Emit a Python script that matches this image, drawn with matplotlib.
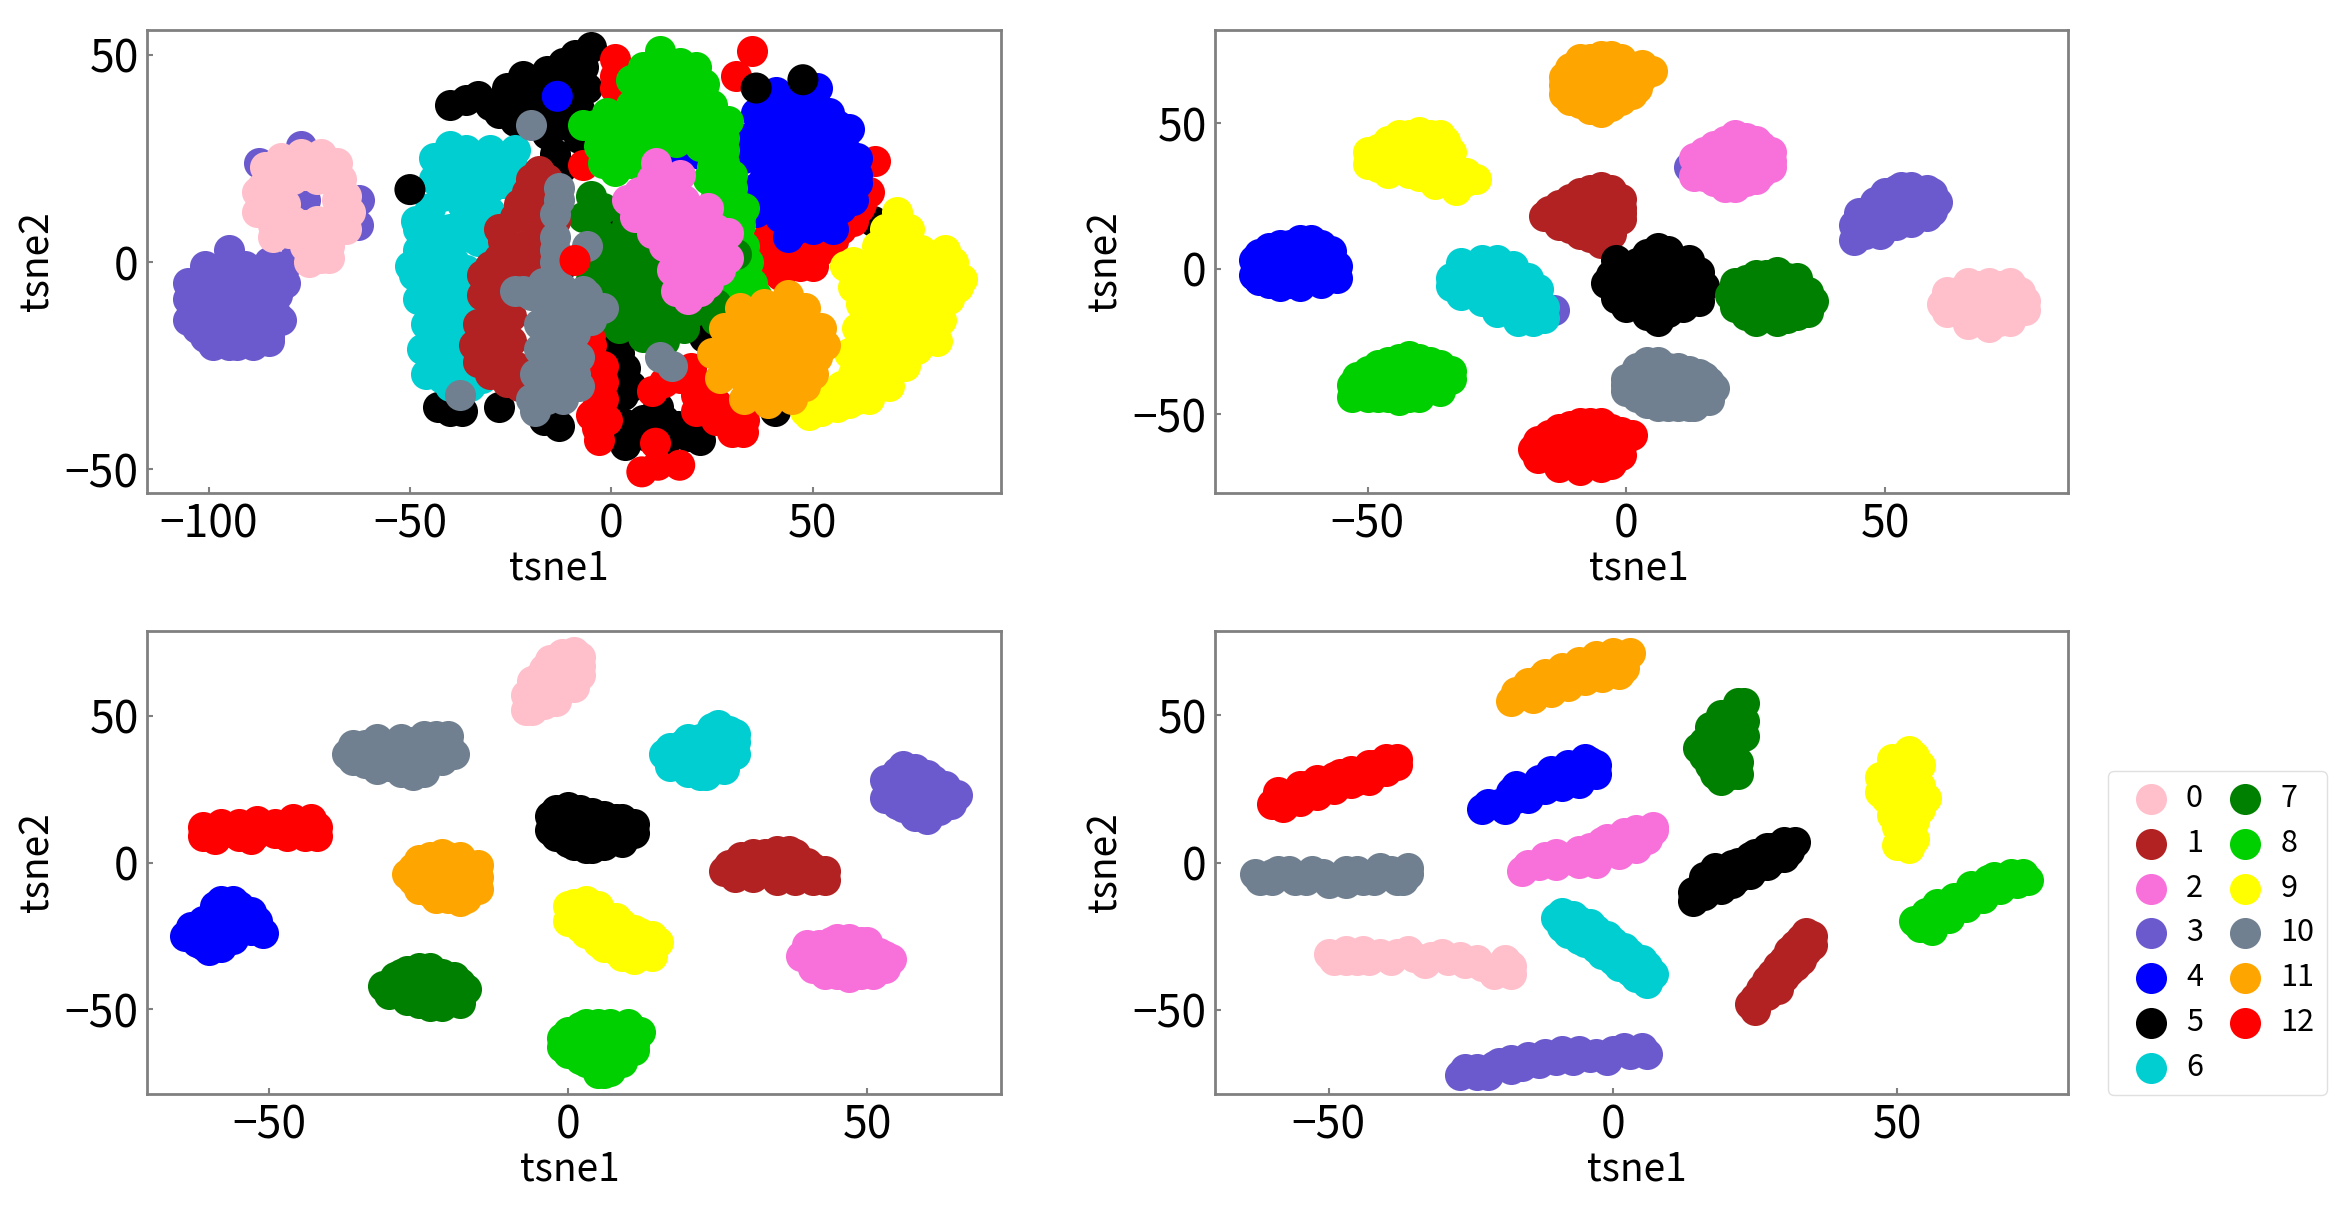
import numpy as np
import matplotlib
matplotlib.use('Agg')
import matplotlib.pyplot as plt

plt.rcParams['font.family'] = ['Noto Sans CJK SC', 'DejaVu Sans']

labels = ['0', '1', '2', '3', '4', '5', '6', '7', '8', '9', '10', '11', '12']
colors = ['#FFC0CB', '#B22222', '#F870DA', '#6A5ACD', '#0000FF', '#000000', '#00CED1',
          '#008000', '#00D000', '#FFFF00', '#708090', '#FFA500', '#FF0000']

# panel 1, heavily overlapped clusters
p1_0 = [(-84,15),(-82,20),(-76,21),(-70,20),(-68,15),(-70,10),(-76,9),(-82,10),(-86,23),(-82,25),(-77,26),(-72,26),(-68,24),(-67,20),(-66,16),(-65,12),(-68,8),(-70,4),(-72,1),(-75,0),(-87,18),(-86,13),(-84,9),(-80,7),(-76,4),(-73,6),
        (-79,20),(-73,20),(-73,10),(-79,10),(-81,14),(-88,17),(-88,12),(-85,20),(-84,6),(-70,1),(-66,8)]
p1_1 = [(-18,22),(-21,17),(-16,16),(-24,11),(-19,10),(-14,10),(-27,5),(-22,4),(-17,3),(-30,-1),(-25,-1),(-20,-1),(-30,-7),(-25,-7),(-29,-13),(-25,-13),(-29,-19),(-25,-19),(-28,-25),(-24,-25),(-26,-29),(-23,-30),
        (-22,13),(-18,8),(-25,3),(-28,1),(-23,-4),(-27,-4),(-27,-10),(-27,-16),(-27,-22),(-25,-27),(-16,20),(-19,14),(-15,4),
        (-28,8),(-23,14),(-20,20),(-32,-8),(-32,-3),(-34,-20),(-33,-15),(-33,-24),(-30,-27)]
p1_2 = [(11,24),(17,21),(7,17),(12,17),(18,15),(24,13),(4,15),(6,11),(13,10),(20,9),(26,8),(29,7),(13,4),(19,3),(26,3),(29,1),(15,-2),(21,-3),(27,-2),(16,-7),(22,-7),(19,-9),
        (9,14),(15,13),(21,12),(23,6),(16,7),(10,7),(16,1),(23,0),(18,-5),(24,-5),(27,5),(10,20),(14,19)]
p1_3 = [(-105,-9),(-105,-14),(-101,-5),(-101,-12),(-101,-18),(-97,-2),(-97,-9),(-97,-16),(-95,3),(-93,-4),(-93,-12),(-93,-20),(-89,-3),(-89,-10),(-89,-18),(-85,-4),(-85,-11),(-85,-18),(-83,-8),(-83,-13),(-81,-1),(-78,1),(-77,28),(-87.5,24),(-62.6,15),(-63,9),(-76,15),
        (-99,-7),(-99,-14),(-95,-7),(-95,-14),(-91,-8),(-91,-15),(-87,-7),(-87,-14),(-103,-11),(-103,-16),(-99,-20),(-95,-20),(-89,-20),(-85,-19),(-105,-5),(-101,-1),(-91,-1),(-85,0),(-81,-5),(-78,3),(-82,-14)]
p1_4 = [(41,41),(46,40),(51,42),(36,36),(42,35),(48,35),(54,36),(59,32),(34,30),(40,29),(46,29),(52,29),(58,27),(61,25),(33,25),(39,23),(45,23),(51,23),(57,22),(61,19),(36,18),(42,17),(48,17),(54,16),(60,15),(36,12),(42,11),(48,11),(54,11),(44,6),(55,8),(17,25),(22,26),
        (38,38),(44,38),(50,38),(56,33),(37,32),(43,32),(49,32),(55,31),(36,26),(42,26),(48,26),(54,26),(60,23),(38,20),(44,20),(50,20),(56,19),(39,14),(45,14),(51,14),(57,13),(46,8),(50,8),(34,27),(61,21)]
p1_5 = [(-5,52),(-6,42),(-12,48),(-22,45),(-17,44),(-33,40),(-40,38),(-28,36),(-22,38),(-16,36),(-11,38),(-14,26),(-16,31),(-12.5,22.6),(0,11),(-43,-35),(-37,-36),(-28,-35),(-13,-39.5),(-16.6,-38),(3.5,-44),(11.6,-35),(3.5,-39),(22,-43),(16.5,-39.5),(8,-38),(3.5,-25.6),(2,-22),(11,-8),(-12,-0.5),(23,-18),(40.6,-36),(65,10),
        (-9,50),(-16,46),(-26,42),(-30,38),(-36,39),(-24,34),(-19,38),(-13,33),(-8,37),(-7,47),(-25,40),(-17,41),(-12,42),(-8,30),(6,-41),(9,-42),(13,-38),(19,-42),(13,-44),(5,-30),(3,-32),(-40,-36),(-2,-17),(3,-28)]
p1_6 = [(-44,20),(-44,25),(-40,28),(-36,27),(-30,27),(-25,24),(-27,19),(-33,20),(-39,19),(-37,14),(-45,13),(-47,9),(-40,8),(-35,6),(-41,3),(-47,4),(-36,-2),(-49,-3),(-44,-4),(-38,-3),(-48,-9),(-43,-10),(-37,-9),(-46,-15),(-41,-16),(-36,-15),(-47,-21),(-42,-22),(-36,-21),(-46,-27),(-42,-28),(-37,-27),(-35,-30),
        (-42,22),(-37,23),(-32,24),(-28,23),(-30,18),(-42,16),(-33,15),(-43,8),(-37,9),(-44,0),(-39,0),(-42,-7),(-45,-12),(-39,-12),(-44,-18),(-39,-18),(-44,-24),(-39,-24),(-40,-30),(-48,8),(-48,3),
        (-24,27),(-24,22),(-50,-1),(-48.5,10),(-32,10),(-33,5),(-30,12),(-33,-4),(-33,-10),(-33,-17),(-33,-23),(-32,-28)]
p1_7 = [(-5,16),(-7,11),(-4,11),(-3,7),(4,9),(10,10),(9,5),(-1,5),(-1,1),(5,0),(10,-1),(-5,-4),(0,-5),(5,-5),(10,-7),(-1,-10),(4,-12),(9,-13),(14,-12),(20,-12),(2,-16),(8,-18),(13,-19),(18,-16),(31,2),
        (-2,13),(-6,3),(2,3),(7,3),(2,-1),(-3,-1),(7,-3),(2,-9),(7,-9),(12,-9),(-2,-7),(6,-15),(11,-16),(16,-13),(22,-9),(26,-10),(26,-14),(15,-8),(17,-10)]
p1_8 = [(12,51),(8,47),(17,48),(21,47),(8,41),(14,42),(20,41),(25,38),(29,34),(2,33),(8,34),(14,34),(20,33),(26,32),(-7,33),(-3,28),(3,26),(8,27),(-2,24),(1,22),(22,28),(27,28),(28,24),(30,18),(31,14),(32,9),(33,4),(34,-4),(30,-7),
        (5,44),(11,45),(17,44),(23,43),(5,38),(11,38),(17,38),(23,36),(28,30),(-4,33),(-1,36),(4,30),(10,30),(16,29),(-1,30),(5,24),(28,27),(30,21),(33,13),(32,11),
        (24,20),(26,16),(27,12),(25,23),(34,0),(35,-5),(36,-8),(31,-3)]
p1_9 = [(71,12),(71,6),(66,4),(77,3),(83,3),(60,0),(66,-1),(72,-2),(78,-3),(84,-3),(86,-6),(60,-6),(66,-7),(72,-8),(78,-9),(84,-9),(82,-14),(65,-13),(71,-14),(77,-15),(81,-19),(64,-19),(70,-20),(76,-21),(62,-25),(68,-26),(73,-25),(57,-30),(63,-31),(69,-30),(53,-33),(59,-34),(64,-33),(49,-37),(52,-36),
        (68,2),(74,1),(80,0),(63,-3),(69,-4),(75,-5),(81,-6),(62,-10),(68,-10),(74,-11),(80,-12),(67,-16),(73,-17),(79,-17),(61,-16),(59,-22),(65,-22),(71,-23),(60,-27),(65,-28),(55,-32),(61,-33),(56,-35),(50,-35),(58,-1),(48,-36),
        (68,8),(74,8),(85,0),(87,-4)]
p1_10 = [(-13,18),(-14,11.5),(-14,6),(-14,0),(-24,-7),(-12.5,-6),(-2,-11),(-6,4),(-20,-8),(-15,-10),(-10,-12),(-18,-15),(-13,-16),(-9,-17),(-18,-21),(-13,-22),(-8,-23),(-19,-27),(-14,-28),(-9,-27),(-20,-33),(-16,-33),(-12,-33),(-19,-36),(12,-23),(15,-25),(-37.5,-32),(-20,33),
         (-17,-5),(-22,-7),(-7,-7),(-16,-13),(-11,-14),(-5,-14),(-16,-19),(-11,-19),(-10,-24),(-16,-25),(-12,-25),(-16,-30),(-12,-30),(-8,-30),(-14,3),(-14,-3),(-13,15),(-6,-8),(-6,-13)]
p1_11 = [(32,-11),(38,-10),(44,-8),(48,-11),(28,-16),(34,-16),(40,-16),(46,-16),(52,-16),(53,-20),(25,-22),(31,-22),(37,-22),(43,-22),(49,-22),(27,-28),(33,-28),(39,-28),(45,-28),(50,-27),(33,-33),(39,-34),(45,-33),
         (35,-13),(41,-13),(47,-13),(31,-19),(37,-19),(43,-19),(49,-19),(28,-25),(34,-25),(40,-25),(46,-25),(51,-23),(36,-31),(42,-31),(48,-30)]
p1_12 = [(1,49),(1,45),(1,42),(35,51),(31,45),(65.6,24.5),(61.6,13),(64,17),(42,3),(52,3),(39,6),(57,8),(47,-1),(36,-3),(-4.5,-16),(-2,-29),(-3.6,-40),(-3.6,-35),(10,-31),(19.7,-25.6),(21,-32),(24.5,-35),(32.6,-41),(26,-38),(-7,23.5),
         (36,-1),(40,0),(44,1),(48,3),(38,2),(50,-1),(42,-3),(55,5),(60,10),(47,4),(62,14),(-2,-25),(-2,-33),(-5,-37),(-1,-38),(-3,-43),(13,-29),(17,-28),(23,-30),(28,-36),(30,-41),(33,-38),(21,-36),(26,-34),(-5,-20),(-4,-14),(-5,-25)]
# later points of panel 1 that sit on top of everything else
p1_top_label = [4, 5, 5, 5, 12, 12, 12, 12, 12]
p1_top_x = [-13.4, 36, 47.6, -50, -9, 11, 7.6, 17, 11.6]
p1_top_y = [40, 42, 44, 17.5, 0.4, -43.7, -50.6, -49, -49]

# panel 2
p2_0 = [(61,-12),(64,-8),(64,-15),(68,-6),(68,-12),(68,-18),(72,-6),(72,-12),(72,-18),(75,-8),(75,-15),(77,-11),(62,-8),(62,-15),(66,-5),(70,-5),(74,-5),(66,-19),(70,-20),(74,-18),(76,-8),(77,-14)]
p2_1 = [(-16,18),(-13,22),(-13,15),(-9,26),(-9,19),(-9,12),(-5,28),(-5,21),(-5,14),(-5,9),(-1,24),(-1,17),(-15,20),(-11,24),(-7,27),(-3,27),(-1,21),(-1,19),(-14,17),(-11,14),(-7,11),(-3,12),(-11,20),(-7,18)]
p2_2 = [(13,38),(13,32),(17,42),(17,36),(17,30),(21,46),(21,40),(21,34),(21,28),(25,44),(25,38),(25,31),(28,40),(28,35),(15,40),(19,44),(23,45),(26,42),(28,37),(26,33),(23,30),(19,28),(15,32),(19,36),(23,37)]
p2_3 = [(44,10),(44,15),(47,14),(47,19),(50,15),(50,21),(50,26),(53,17),(53,23),(53,28),(56,18),(56,24),(59,20),(59,26),(12,35),(-14,-14),(46,12),(49,12),(45,19),(48,23),(52,27),(55,28),(58,27),(60,23),(58,18),(55,16),(52,15),(48,17),(54,20)]
p2_4 = [(-72,3),(-72,-2),(-69,7),(-69,1),(-69,-5),(-65,8),(-65,2),(-65,-5),(-61,10),(-61,3),(-61,-4),(-57,6),(-57,0),(-56,-3),(-71,5),(-71,-4),(-67,8),(-67,-6),(-63,10),(-63,-6),(-59,8),(-59,-5),(-57,3),(-63,4),(-67,3),(-56,1)]
p2_5 = [(-4,-5),(-1,0),(-1,-7),(2,2),(2,-5),(2,-12),(6,7),(6,0),(6,-7),(6,-14),(6,-18),(10,2),(10,-5),(10,-12),(13,-3),(13,-9),(15,-6),(-2,3),(-3,-2),(-2,-10),(0,-13),(4,5),(4,-16),(8,6),(8,-15),(11,-13),(12,3),(14,-1),(14,-11),(4,-2),(8,-3)]
p2_6 = [(-34,-6),(-31,-1),(-31,-8),(-28,0),(-28,-7),(-24,1),(-24,-6),(-24,-12),(-21,-2),(-21,-9),(-21,-15),(-18,-9),(-18,-14),(-16,-17),(-32,2),(-28,3),(-25,3),(-22,1),(-19,-3),(-17,-7),(-16,-13),(-34,-3),(-32,-9),(-28,-11),(-25,-15),(-21,-18),(-18,-18)]
p2_7 = [(20,-9),(23,-4),(23,-11),(23,-16),(27,-2),(27,-9),(27,-16),(31,-3),(31,-10),(31,-17),(34,-7),(34,-13),(36,-11),(21,-5),(21,-13),(25,-2),(25,-18),(29,-1),(29,-18),(33,-3),(33,-16),(35,-8),(35,-15),(29,-8)]
p2_8 = [(-53,-40),(-53,-44),(-50,-35),(-50,-42),(-46,-32),(-46,-38),(-46,-44),(-42,-30),(-42,-37),(-42,-44),(-38,-32),(-38,-39),(-34,-35),(-35,-37),(-52,-37),(-48,-33),(-48,-44),(-44,-31),(-44,-45),(-40,-31),(-40,-44),(-36,-33),(-36,-42),(-34,-38),(-50,-44)]
p2_9 = [(-50,40),(-50,36),(-46,44),(-46,38),(-46,33),(-42,46),(-42,39),(-42,33),(-38,46),(-38,39),(-38,33),(-35,44),(-35,36),(-34,29),(-31,30),(-29,31),(-48,41),(-44,46),(-40,47),(-36,46),(-34,40),(-33,34),(-48,35),(-44,35),(-40,32),(-37,29),(-33,27),(-31,33)]
p2_10 = [(0,-38),(0,-42),(4,-32),(4,-39),(4,-46),(8,-34),(8,-40),(8,-47),(12,-35),(12,-41),(12,-47),(15,-37),(15,-43),(17,-41),(2,-34),(6,-32),(10,-34),(14,-36),(16,-39),(16,-45),(13,-47),(10,-47),(6,-47),(2,-44),(0,-40),(6,-39),(10,-40)]
p2_11 = [(-12,66),(-12,60),(-9,72),(-9,65),(-9,57),(-5,73),(-5,66),(-5,59),(-5,54),(-1,72),(-1,65),(-1,58),(2,68),(2,62),(5,68),(-12,63),(-11,69),(-7,72),(-3,73),(0,70),(3,66),(1,60),(-3,56),(-7,55),(-11,58),(-8,62),(-3,63),(3,70)]
p2_12 = [(-18,-62),(-15,-57),(-15,-64),(-11,-54),(-11,-60),(-11,-67),(-7,-53),(-7,-60),(-7,-67),(-3,-55),(-3,-62),(-3,-67),(0,-58),(1,-57),(-17,-59),(-17,-65),(-13,-55),(-13,-68),(-9,-53),(-9,-69),(-5,-53),(-5,-68),(-1,-56),(-1,-64),(-14,-62),(-9,-61),(-5,-61)]

# panel 3
p3_0 = [(-7,57),(-7,52),(-4,66),(-4,60),(-4,54),(-1,71),(-1,65),(-1,59),(2,70),(2,64),(-6,62),(-3,69),(1,72),(2,67),(1,60),(-2,55),(-6,52),(-5,63)]
p3_1 = [(26,-3),(29,2),(29,-4),(33,3),(33,-3),(37,4),(37,-3),(40,0),(40,-5),(43,-3),(27,-1),(28,-5),(31,3),(35,4),(31,-5),(35,-6),(38,-6),(41,-6),(38,3),(41,-2),(43,-6),(33,0),(37,0)]
p3_2 = [(39,-32),(42,-28),(42,-36),(45,-26),(45,-33),(45,-38),(49,-27),(49,-33),(49,-38),(52,-31),(52,-36),(54,-33),(40,-28),(41,-32),(44,-27),(47,-26),(50,-27),(53,-32),(53,-36),(51,-38),(47,-39),(43,-38),(41,-36),(46,-30),(50,-33)]
p3_3 = [(53,22),(53,28),(56,33),(56,26),(56,19),(60,30),(60,23),(60,15),(63,26),(63,20),(65,23),(54,25),(55,31),(58,32),(61,28),(63,23),(64,20),(62,18),(58,16),(55,20),(58,25),(61,22)]
p3_4 = [(-64,-25),(-61,-20),(-61,-28),(-58,-13),(-58,-20),(-58,-29),(-55,-15),(-55,-22),(-52,-20),(-51,-24),(-63,-22),(-62,-27),(-59,-15),(-59,-24),(-56,-13),(-56,-20),(-56,-26),(-53,-17),(-53,-23),(-60,-30)]
p3_5 = [(-3,16),(-3,11),(0,19),(0,13),(0,7),(4,17),(4,11),(4,5),(8,15),(8,9),(11,13),(11,10),(-2,18),(2,18),(6,16),(9,15),(1,6),(3,5),(6,6),(9,7),(-2,9),(3,13),(7,12)]
p3_6 = [(16,37),(19,40),(19,34),(22,42),(22,36),(22,30),(25,47),(25,41),(25,35),(28,44),(28,37),(17,39),(20,42),(24,46),(27,45),(28,41),(26,32),(23,30),(20,31),(17,33),(22,39),(26,38)]
p3_7 = [(-31,-42),(-28,-38),(-28,-45),(-25,-36),(-25,-43),(-25,-48),(-21,-38),(-21,-44),(-21,-49),(-18,-41),(-18,-46),(-29,-39),(-30,-45),(-27,-37),(-23,-36),(-19,-39),(-17,-43),(-18,-48),(-23,-49),(-27,-47),(-24,-42),(-21,-41)]
p3_8 = [(-1,-60),(-1,-63),(2,-56),(2,-62),(2,-67),(5,-55),(5,-62),(5,-68),(6,-72),(8,-57),(8,-63),(8,-68),(11,-57),(11,-62),(0,-58),(0,-65),(3,-55),(7,-55),(10,-55),(12,-58),(11,-64),(9,-68),(7,-71),(5,-72),(3,-68),(2,-60),(5,-60)]
p3_9 = [(0,-15),(0,-20),(3,-13),(3,-19),(3,-24),(6,-18),(6,-24),(6,-29),(9,-21),(9,-27),(9,-32),(12,-24),(12,-31),(15,-27),(1,-14),(2,-22),(5,-15),(5,-27),(8,-19),(8,-30),(11,-23),(11,-33),(14,-25),(14,-32),(4,-21),(10,-29)]
p3_10 = [(-37,37),(-34,40),(-34,34),(-30,40),(-30,33),(-26,41),(-26,35),(-26,30),(-22,43),(-22,37),(-20,40),(-36,35),(-36,40),(-32,42),(-32,32),(-28,42),(-28,31),(-24,43),(-24,31),(-21,35),(-19,37),(-20,43),(-28,37)]
p3_11 = [(-26,-2),(-26,-6),(-23,2),(-23,-4),(-23,-10),(-20,2),(-20,-4),(-20,-12),(-17,-1),(-17,-7),(-17,-12),(-15,-5),(-25,1),(-27,-4),(-25,-9),(-22,-12),(-18,-13),(-15,-9),(-15,-1),(-18,2),(-21,3),(-21,-8),(-18,-3)]
p3_12 = [(-61,9),(-61,12),(-58,10),(-58,13),(-55,9),(-55,13),(-52,10),(-52,14),(-49,10),(-49,13),(-46,11),(-46,15),(-43,10),(-43,15),(-42,12),(-59,8),(-56,12),(-53,8),(-50,12),(-47,9),(-44,13),(-44,9),(-42,9)]

# panel 4
p4_0 = [(-50,-31),(-47,-30),(-47,-33),(-44,-30),(-41,-31),(-38,-31),(-35,-32),(-32,-32),(-29,-33),(-26,-34),(-23,-35),(-20,-36),(-18,-38),(-18,-35),(-49,-33),(-45,-33),(-43,-33),(-39,-33),(-36,-30),(-33,-34),(-30,-31),(-27,-32),(-24,-33),(-21,-38),(-19,-33)]
p4_1 = [(25,-46),(25,-50),(27,-40),(27,-45),(29,-35),(29,-41),(31,-30),(31,-37),(33,-26),(33,-33),(35,-25),(35,-28),(24,-48),(26,-43),(28,-38),(30,-33),(30,-39),(32,-28),(32,-35),(34,-24),(34,-30),(29,-43)]
p4_2 = [(-16,-3),(-13,-1),(-10,-1),(-10,3),(-7,1),(-4,2),(-4,5),(-1,4),(-1,8),(2,6),(2,10),(5,9),(7,12),(-15,-1),(-12,2),(-9,2),(-6,4),(-6,0),(-3,0),(-2,7),(1,3),(1,8),(4,5),(4,11),(6,8),(7,11)]
p4_3 = [(-27,-72),(-24,-70),(-24,-72),(-21,-69),(-18,-67),(-18,-70),(-15,-66),(-12,-65),(-9,-64),(-6,-64),(-3,-65),(0,-64),(3,-65),(6,-65),(-26,-70),(-22,-72),(-20,-68),(-16,-69),(-13,-68),(-10,-67),(-7,-67),(-4,-66),(-1,-67),(2,-63),(5,-63)]
p4_4 = [(-23,18),(-20,20),(-17,22),(-17,26),(-14,25),(-11,28),(-11,31),(-8,29),(-8,33),(-5,30),(-5,35),(-3,33),(-22,20),(-19,18),(-18,24),(-15,22),(-13,28),(-12,25),(-9,26),(-7,32),(-6,27),(-4,34),(-3,30)]
p4_5 = [(14,-10),(16,-5),(19,-9),(19,-3),(22,-5),(22,0),(25,-2),(25,3),(28,1),(28,5),(31,4),(32,7),(14,-13),(17,-8),(16,-11),(18,-2),(21,-7),(21,-1),(24,-4),(24,2),(27,-1),(27,5),(30,2),(30,7)]
p4_6 = [(-9,-17),(-9,-22),(-6,-20),(-6,-26),(-3,-23),(-3,-29),(0,-27),(0,-33),(3,-31),(3,-37),(6,-35),(6,-41),(-10,-19),(-7,-18),(-8,-24),(-4,-21),(-5,-27),(-1,-25),(-2,-31),(2,-29),(1,-35),(5,-33),(4,-39),(7,-38)]
p4_7 = [(16,36),(16,41),(18,30),(18,37),(18,44),(21,30),(21,37),(21,44),(21,51),(23,48),(23,54),(22,30),(15,39),(17,33),(19,28),(20,47),(22,54),(20,40),(19,50),(23,43),(22,34),(17,46)]
p4_8 = [(54,-22),(57,-19),(57,-14),(60,-16),(60,-12),(63,-12),(63,-8),(66,-9),(66,-6),(69,-7),(72,-5),(72,-4),(53,-20),(55,-17),(56,-23),(58,-16),(59,-19),(61,-13),(62,-15),(64,-10),(65,-12),(67,-5),(68,-9),(70,-4),(71,-7),(73,-6)]
p4_9 = [(48,27),(48,22),(50,33),(50,27),(50,20),(50,12),(50,6),(53,36),(53,30),(53,22),(53,14),(53,8),(47,24),(47,29),(49,35),(49,30),(52,38),(54,33),(54,26),(54,18),(49,16),(52,5),(51,10),(55,22),(51,25),(52,18)]
p4_10 = [(-63,-4),(-60,-6),(-57,-3),(-54,-6),(-51,-4),(-48,-5),(-45,-3),(-42,-6),(-39,-3),(-36,-4),(-37,-6),(-62,-6),(-59,-3),(-56,-6),(-53,-3),(-50,-7),(-47,-3),(-44,-6),(-41,-2),(-38,-6),(-36,-2),(-60,-4),(-47,-7)]
p4_11 = [(-18,55),(-15,57),(-15,61),(-12,59),(-12,64),(-9,61),(-9,66),(-6,63),(-6,68),(-3,65),(-3,70),(0,67),(0,71),(2,69),(-17,58),(-13,62),(-14,56),(-10,63),(-11,58),(-7,66),(-8,60),(-4,67),(-5,62),(-1,69),(-2,63),(1,64),(2,66),(3,71)]
p4_12 = [(-60,20),(-57,22),(-54,23),(-54,26),(-51,25),(-48,27),(-48,30),(-45,28),(-42,30),(-42,33),(-39,33),(-38,35),(-59,24),(-58,19),(-55,26),(-55,21),(-52,28),(-52,23),(-49,29),(-49,25),(-46,31),(-46,27),(-43,33),(-43,28),(-40,35),(-40,31),(-38,33)]

panels = [
    [p1_0, p1_1, p1_2, p1_3, p1_4, p1_5, p1_6, p1_7, p1_8, p1_9, p1_10, p1_11, p1_12],
    [p2_0, p2_1, p2_2, p2_3, p2_4, p2_5, p2_6, p2_7, p2_8, p2_9, p2_10, p2_11, p2_12],
    [p3_0, p3_1, p3_2, p3_3, p3_4, p3_5, p3_6, p3_7, p3_8, p3_9, p3_10, p3_11, p3_12],
    [p4_0, p4_1, p4_2, p4_3, p4_4, p4_5, p4_6, p4_7, p4_8, p4_9, p4_10, p4_11, p4_12],
]
# draw order decides which cluster hides which
orders = [
    [5, 12, 3, 0, 4, 8, 9, 7, 11, 6, 1, 10, 2],
    [3, 0, 1, 2, 4, 5, 6, 7, 8, 9, 10, 11, 12],
    list(range(13)),
    list(range(13)),
]

xlims = [(-115.3, 96.8), (-79.5, 85.3), (-70.4, 72.4), (-70, 80)]
ylims = [(-55.7, 56), (-77, 82), (-79, 79), (-78.6, 78.6)]
xticks = [[-100, -50, 0, 50], [-50, 0, 50], [-50, 0, 50], [-50, 0, 50]]
yticks = [[-50, 0, 50], [-50, 0, 50], [-50, 0, 50], [-50, 0, 50]]
xlabel_pos = [0.482, 0.497, 0.495, 0.495]

W, H = 2350, 1208
boxes = [(147, 30, 854, 463), (1215, 30, 853, 463), (147, 631, 854, 463), (1215, 631, 853, 463)]
SIZE = 500

fig = plt.figure(figsize=(W / 100, H / 100), dpi=100)
axes = []
for k, (x0, y0, w, h) in enumerate(boxes):
    ax = fig.add_axes([x0 / W, 1 - (y0 + h) / H, w / W, h / H])
    for i in orders[k]:
        pts = np.array(panels[k][i])
        ax.scatter(pts[:, 0], pts[:, 1], s=SIZE, c=colors[i], linewidths=0, label=labels[i])
    if k == 0:
        ax.scatter(p1_top_x, p1_top_y, s=SIZE, c=[colors[i] for i in p1_top_label], linewidths=0)
    ax.set_xlim(xlims[k])
    ax.set_ylim(ylims[k])
    ax.set_xticks(xticks[k])
    ax.set_yticks(yticks[k])
    ax.tick_params(direction='in', length=4, width=1.5, color='#808080', labelsize=32, pad=6)
    ax.set_xlabel('tsne1', fontsize=28, labelpad=1)
    ax.set_ylabel('tsne2', fontsize=28, labelpad=5)
    ax.xaxis.label.set_x(xlabel_pos[k])
    for s in ax.spines.values():
        s.set_color('#808080')
        s.set_linewidth(2)
    axes.append(ax)

handles, lab = axes[3].get_legend_handles_labels()
fig.legend(handles, lab, ncol=2, fontsize=22, loc='upper left',
           bbox_to_anchor=(2108 / W, 1 - 771 / H), bbox_transform=fig.transFigure,
           borderaxespad=0, labelspacing=0.45, columnspacing=0.39, handletextpad=0.15,
           borderpad=0.4, fancybox=True, edgecolor='#e0e0e0', framealpha=1)

fig.savefig('out.png', dpi=100)
